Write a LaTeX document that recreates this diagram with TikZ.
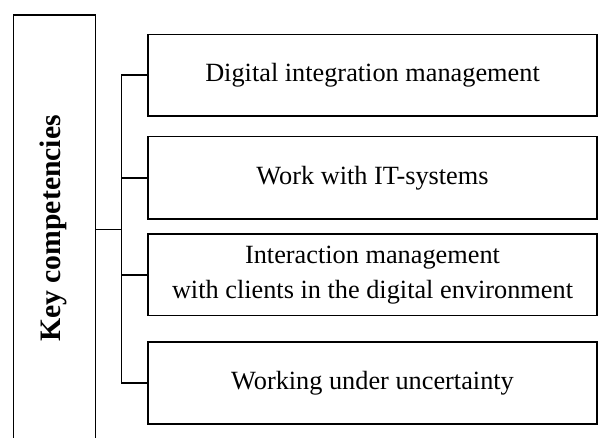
\documentclass[tikz,border=0pt]{standalone}
\usepackage{fontspec}
\setmainfont{Liberation Serif}
\begin{document}
\begin{tikzpicture}[x=1pt,y=-1pt,
  line width=1.6pt,
  compbox/.style={draw=black, line width=1.6pt, minimum width=449pt, inner sep=0pt, align=center,
    font=\fontsize{26.3}{35}\selectfont},
  keybox/.style={draw=black, line width=1.6pt, minimum width=82pt, minimum height=430pt, inner sep=0pt}]
\useasboundingbox (0,0) rectangle (600,438);
\clip (0,0) rectangle (600,438);
% left tall box (extends past the bottom edge)
\node[keybox, anchor=north west] (kc) at (12.5,14) {};
\node[rotate=90, font=\fontsize{29.7}{34}\selectfont\bfseries] (kct) at (53.5,228.5) {Key competencies};
% competency boxes
\node[compbox, minimum height=81.5pt] (b1) at (372.5,75.25) {Digital integration management};
\node[compbox, minimum height=82.6pt] (b2) at (372.5,178) {Work with IT-systems};
\node[compbox, minimum height=81.7pt] (b3) at (372.5,274.85) {Interaction management\\with clients in the digital environment};
\node[compbox, minimum height=81.7pt] (b4) at (372.5,383.15) {Working under uncertainty};
% connectors
\coordinate (trunk) at (121.5,229.7);
\draw[line width=1.6pt] (kc.east |- trunk) -- (trunk);
\draw[line width=1.6pt] (b1.west) -- (b1.west -| trunk) -- (b4.west -| trunk) -- (b4.west);
\draw[line width=1.6pt] (b2.west) -- (b2.west -| trunk);
\draw[line width=1.6pt] (b3.west) -- (b3.west -| trunk);
\end{tikzpicture}
\end{document}
